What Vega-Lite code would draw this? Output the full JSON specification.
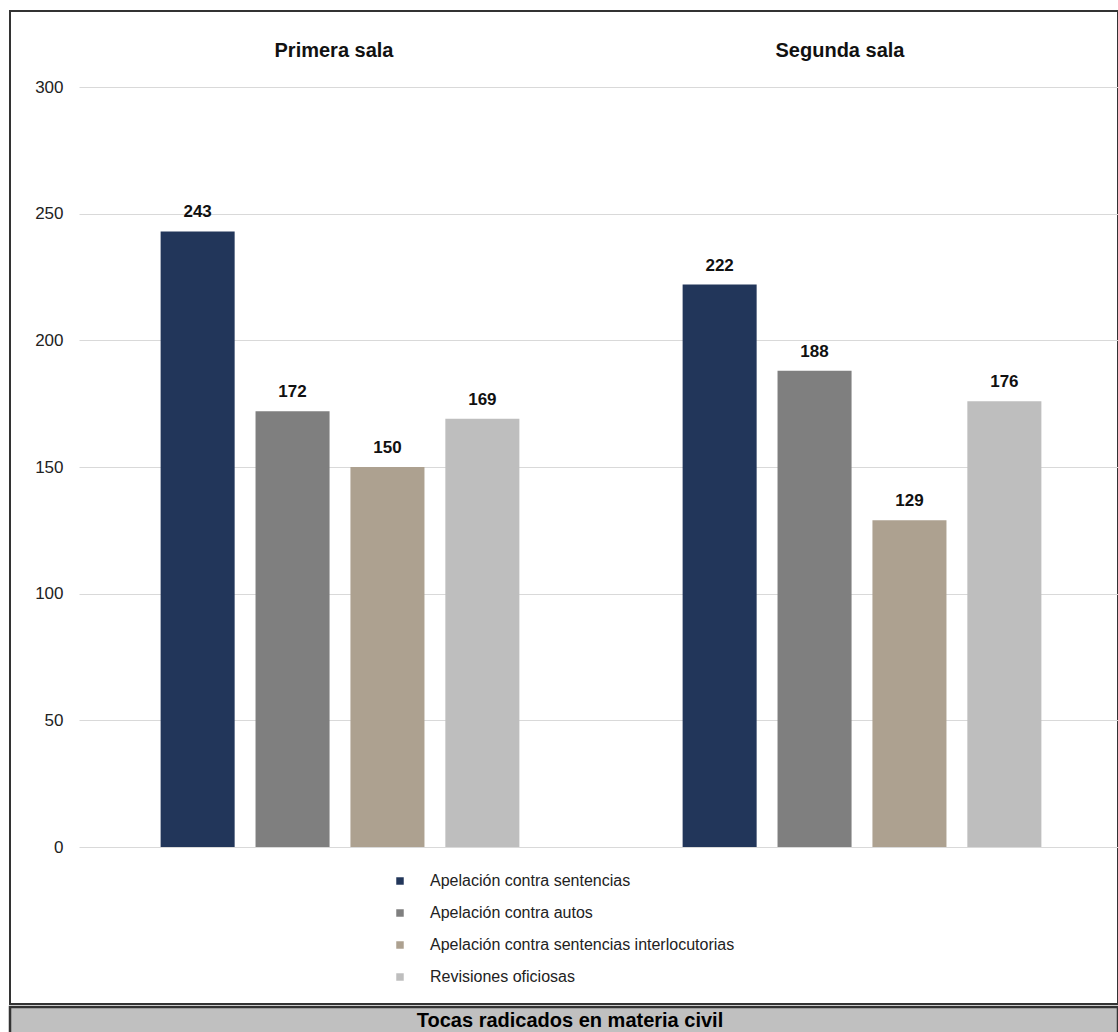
{
  "$schema": "https://vega.github.io/schema/vega-lite/v6.json",
  "padding": {"left": 8, "top": 10, "right": 0, "bottom": 0},
  "background": "white",
  "spacing": 0,
  "config": {
    "font": "Liberation Sans",
    "view": {"stroke": "#333333", "strokeWidth": 2}
  },
  "vconcat": [
    {
      "width": 1108,
      "height": 993,
      "data": {
        "values": [
          {"sala": "Primera sala", "tipo": "Apelación contra sentencias", "valor": 243},
          {"sala": "Primera sala", "tipo": "Apelación contra autos", "valor": 172},
          {"sala": "Primera sala", "tipo": "Apelación contra sentencias interlocutorias", "valor": 150},
          {"sala": "Primera sala", "tipo": "Revisiones oficiosas", "valor": 169},
          {"sala": "Segunda sala", "tipo": "Apelación contra sentencias", "valor": 222},
          {"sala": "Segunda sala", "tipo": "Apelación contra autos", "valor": 188},
          {"sala": "Segunda sala", "tipo": "Apelación contra sentencias interlocutorias", "valor": 129},
          {"sala": "Segunda sala", "tipo": "Revisiones oficiosas", "valor": 176}
        ]
      },
      "encoding": {
        "x": {
          "field": "sala",
          "type": "nominal",
          "sort": ["Primera sala", "Segunda sala"],
          "scale": {"range": [69, 1113], "paddingInner": 0, "paddingOuter": 0},
          "axis": {
            "orient": "top",
            "title": null,
            "domain": false,
            "ticks": false,
            "grid": false,
            "offset": -55,
            "labelPadding": 10,
            "labelBaseline": "alphabetic",
            "labelAngle": 0,
            "labelOffset": {"condition": {"test": "datum.value === 'Segunda sala'", "value": -22}, "value": -6},
            "labelFontSize": 20,
            "labelFontWeight": "bold",
            "labelColor": "#111111"
          }
        },
        "xOffset": {
          "field": "tipo",
          "type": "nominal",
          "sort": ["Apelación contra sentencias", "Apelación contra autos", "Apelación contra sentencias interlocutorias", "Revisiones oficiosas"],
          "scale": {"paddingInner": 0.22, "paddingOuter": 0.86}
        },
        "y": {
          "field": "valor",
          "type": "quantitative",
          "scale": {"domain": [0, 300], "range": [836, 76], "nice": false, "zero": true},
          "axis": {
            "title": null,
            "domain": false,
            "ticks": false,
            "values": [0, 50, 100, 150, 200, 250, 300],
            "offset": -68,
            "labelPadding": 15,
            "labelFontSize": 17,
            "labelColor": "#222222",
            "gridColor": "#d9d9d9",
            "gridWidth": 1
          }
        }
      },
      "layer": [
        {
          "mark": {"type": "bar"},
          "encoding": {
            "color": {
              "field": "tipo",
              "type": "nominal",
              "sort": ["Apelación contra sentencias", "Apelación contra autos", "Apelación contra sentencias interlocutorias", "Revisiones oficiosas"],
              "scale": {
                "domain": ["Apelación contra sentencias", "Apelación contra autos", "Apelación contra sentencias interlocutorias", "Revisiones oficiosas"],
                "range": ["#22365a", "#7f7f7f", "#ada190", "#bebebe"]
              },
              "legend": {
                "orient": "none",
                "legendX": 382,
                "legendY": 862,
                "title": null,
                "symbolType": "square",
                "symbolSize": 56,
                "symbolStrokeWidth": 0,
                "labelFontSize": 16,
                "labelColor": "#222222",
                "labelOffset": 22,
                "rowPadding": 16,
                "padding": 0,
                "labelLimit": 600
              }
            }
          }
        },
        {
          "mark": {"type": "text", "baseline": "alphabetic", "dy": -14, "fontSize": 17, "fontWeight": "bold", "color": "#111111"},
          "encoding": {
            "text": {"field": "valor", "type": "quantitative"}
          }
        }
      ]
    },
    {
      "width": 1108,
      "height": 29,
      "view": {"fill": "#c0c0c0", "stroke": "#333333", "strokeWidth": 2.5},
      "data": {"values": [{"label": "Tocas radicados en materia civil"}]},
      "mark": {"type": "text", "fontSize": 20, "fontWeight": "bold", "color": "#000000", "dx": 6, "dy": -1},
      "encoding": {
        "text": {"field": "label", "type": "nominal"}
      }
    }
  ]
}
